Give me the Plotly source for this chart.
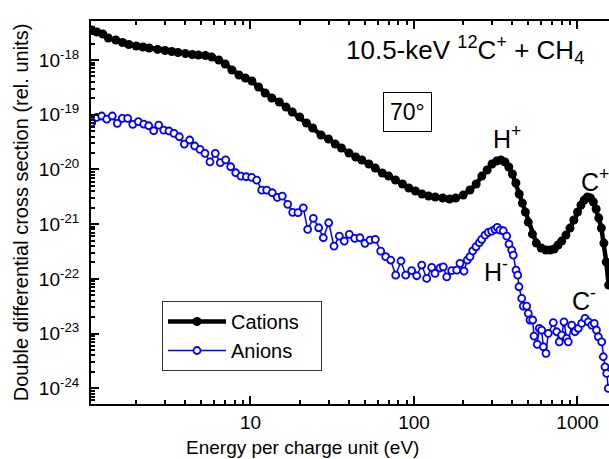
import numpy as np
import plotly.graph_objects as go

# ---- data ----
cation_energy = [1.07, 1.15, 1.25, 1.35, 1.5, 1.65, 1.8, 2.0, 2.2, 2.4, 2.7, 3.0, 3.3, 3.6, 4.0, 4.4,
                 4.8, 5.3, 5.8, 6.4, 7.0, 7.7, 8.5, 9.3, 10.2, 11.2, 12.3, 13.5, 15, 16.5, 18, 20,
                 22, 24, 27, 30, 33, 36, 40, 44, 48, 53, 58, 64, 70, 77, 85, 93, 102, 112, 123,
                 135, 150, 165, 180, 200, 220, 240, 260, 280, 300, 320, 340, 360, 380, 400, 420,
                 440, 460, 480, 500, 530, 560, 600, 640, 680, 720, 760, 800, 850, 900, 950, 1000,
                 1050, 1100, 1150, 1200, 1250, 1300, 1350, 1400, 1450, 1500, 1550]
cation_dcs = [3.54e-18, 3.25e-18, 2.99e-18, 2.52e-18, 2.32e-18, 2.09e-18, 1.92e-18, 1.80e-18,
              1.73e-18, 1.66e-18, 1.56e-18, 1.49e-18, 1.43e-18, 1.37e-18, 1.31e-18, 1.26e-18,
              1.23e-18, 1.21e-18, 1.13e-18, 1.00e-18, 8.45e-19, 6.57e-19, 5.32e-19, 4.69e-19,
              4.13e-19, 3.21e-19, 2.49e-19, 2.02e-19, 1.71e-19, 1.38e-19, 1.12e-19, 9.08e-20,
              7.05e-20, 5.71e-20, 4.26e-20, 3.60e-20, 2.91e-20, 2.46e-20, 2.00e-20, 1.69e-20,
              1.49e-20, 1.26e-20, 1.06e-20, 8.59e-21, 7.57e-21, 6.40e-21, 5.41e-21, 4.57e-21,
              4.03e-21, 3.55e-21, 3.26e-21, 3.13e-21, 3.00e-21, 2.88e-21, 3.00e-21, 3.40e-21,
              4.20e-21, 5.41e-21, 7.57e-21, 9.75e-21, 1.26e-20, 1.42e-20, 1.49e-20, 1.37e-20,
              1.11e-20, 8.24e-21, 5.64e-21, 3.55e-21, 2.43e-21, 1.66e-21, 1.09e-21, 6.59e-22,
              4.51e-22, 3.66e-22, 3.36e-22, 3.36e-22, 3.51e-22, 4.15e-22, 4.91e-22, 6.32e-22,
              8.48e-22, 1.19e-21, 1.66e-21, 2.23e-21, 2.76e-21, 3.13e-21, 3.00e-21, 2.54e-21,
              1.89e-21, 1.29e-21, 8.48e-22, 4.51e-22, 2.03e-22, 7.70e-23]

anion_energy = [1.068, 1.146, 1.230, 1.320, 1.428, 1.532, 1.644, 1.774, 1.904, 2.060, 2.223, 2.385,
                2.559, 2.745, 2.945, 3.173, 3.405, 3.669, 3.936, 4.247, 4.557, 4.911, 5.268, 5.652,
                6.090, 6.537, 7.053, 7.566, 8.121, 8.747, 9.426, 10.17, 10.91, 11.71, 12.57, 13.59,
                14.58, 15.65, 16.89, 18.12, 19.52, 21.03, 22.37, 24.22, 26.13, 27.88, 30.08, 32.42,
                34.93, 37.47, 40.21, 43.39, 46.74, 50.14, 53.81, 57.99, 62.56, 67.13, 72.03, 77.29,
                83.26, 88.96, 96.8, 103.9, 111.5, 119.6, 128.3, 134.4, 144.2, 151.1, 158.5, 170.1,
                182.5, 191.1, 202.2, 211.8, 220.0, 228.6, 239.5, 250.9, 259.5, 271.9, 284.8, 298.7,
                312.9, 323.2, 335.7, 351.7, 369.0, 381.1, 396.0, 405.0, 420.7, 430.9, 438.8, 455.8,
                466.2, 489.1, 500.1, 512.2, 532.1, 541.9, 567.6, 584.0, 603.9, 617.8, 641.7, 662.8,
                711.2, 746.0, 773.8, 800.4, 826.6, 858.6, 878.2, 921.4, 965.4, 1011, 1061, 1112,
                1165, 1222, 1267, 1307, 1341, 1406, 1438, 1473, 1509, 1543]
anion_dcs = [7.14e-20, 8.96e-20, 9.47e-20, 8.34e-20, 9.47e-20, 6.96e-20, 8.59e-20, 8.59e-20,
             6.68e-20, 7.45e-20, 6.76e-20, 6.29e-20, 5.10e-20, 6.48e-20, 5.25e-20, 5.04e-20,
             4.57e-20, 3.96e-20, 2.91e-20, 3.45e-20, 2.68e-20, 2.33e-20, 1.97e-20, 1.38e-20,
             1.97e-20, 1.33e-20, 1.49e-20, 1.12e-20, 8.70e-21, 7.57e-21, 7.35e-21, 7.17e-21,
             6.40e-21, 4.20e-21, 4.20e-21, 3.75e-21, 3.09e-21, 3.26e-21, 2.30e-21, 1.64e-21,
             1.62e-21, 1.99e-21, 8.03e-22, 1.28e-21, 8.59e-22, 5.64e-22, 1.06e-21, 3.98e-22,
             6.06e-22, 4.91e-22, 6.51e-22, 5.50e-22, 5.64e-22, 4.46e-22, 5.12e-22, 5.27e-22,
             3.22e-22, 2.54e-22, 2.21e-22, 1.17e-22, 2.12e-22, 1.17e-22, 1.41e-22, 1.14e-22,
             1.79e-22, 1.02e-22, 1.62e-22, 1.26e-22, 1.58e-22, 1.66e-22, 1.09e-22, 1.41e-22,
             1.45e-22, 1.92e-22, 1.39e-22, 2.21e-22, 2.54e-22, 3.26e-22, 3.86e-22, 4.57e-22,
             5.27e-22, 6.32e-22, 7.08e-22, 7.48e-22, 8.03e-22, 8.74e-22, 7.80e-22, 7.57e-22,
             6.06e-22, 4.33e-22, 3.36e-22, 2.72e-22, 1.45e-22, 1.17e-22, 7.17e-23, 4.40e-23,
             3.18e-23, 3.18e-23, 2.34e-23, 1.77e-23, 1.77e-23, 9.00e-24, 6.35e-24, 1.25e-23,
             1.16e-23, 5.74e-24, 4.35e-24, 1.01e-23, 1.58e-23, 1.08e-23, 7.08e-24, 9.39e-24,
             1.64e-23, 8.17e-24, 7.08e-24, 1.43e-23, 1.08e-23, 1.25e-23, 1.54e-23, 1.90e-23,
             1.64e-23, 1.43e-23, 1.54e-23, 1.16e-23, 8.74e-24, 7.08e-24, 3.77e-24, 2.47e-24,
             1.87e-24, 9.96e-25]

x_tick_vals = [10, 100, 1000]
x_tick_text = ["10", "100", "1000"]
y_tick_exps = [-24, -23, -22, -21, -20, -19, -18]

FONT = "Liberation Sans, Arial, sans-serif"

fig = go.Figure()
fig.add_trace(go.Scatter(
    x=cation_energy, y=cation_dcs, name="Cations\u00a0\u00a0\u00a0", mode="lines+markers",
    line=dict(color="black", width=4.5),
    marker=dict(symbol="circle", size=9, color="black"),
))
fig.add_trace(go.Scatter(
    x=anion_energy, y=anion_dcs, name="Anions", mode="lines+markers",
    line=dict(color="#0000ff", width=1.5),
    marker=dict(symbol="circle", size=7, color="white", line=dict(color="#0000ff", width=1.8)),
))

W, H = 609, 459
L, R, T, B = 91, 0, 21, 55


def px(x):
    return (x - L) / (W - L - R)


def py(y):
    return (H - B - y) / (H - T - B)


axis_common = dict(
    showline=True, linecolor="black", linewidth=2,
    ticks="inside", ticklen=8, tickwidth=2, tickcolor="black",
    showgrid=False, zeroline=False,
)

fig.update_xaxes(
    type="log", range=[0.0245, 3.1927],
    tickvals=x_tick_vals, ticktext=x_tick_text,
    tickfont=dict(size=19, color="black", family=FONT),
    mirror="ticks",
    minor=dict(ticks="inside", ticklen=4, tickwidth=1.5, tickcolor="black", dtick="D1", showgrid=False),
    **axis_common,
)
fig.update_yaxes(
    type="log", range=[-24.287, -17.287],
    tickvals=[10.0 ** e for e in y_tick_exps],
    ticktext=["10<sup>%d</sup>" % e for e in y_tick_exps],
    tickfont=dict(size=19, color="black", family=FONT),
    ticklabelstandoff=6,
    minor=dict(ticks="inside", ticklen=4, tickwidth=1.5, tickcolor="black", dtick="D1", showgrid=False),
    title=dict(text="Double differential cross section (rel. units)", font=dict(size=20, color="black", family=FONT), standoff=5),
    **axis_common,
)

annos = [
    dict(text="10.5-keV <sup>12</sup>C<sup>+</sup> + CH<sub>4</sub>", x=px(344), y=py(50), size=26),
    dict(text="H<sup>+</sup>", x=px(491), y=py(137), size=25),
    dict(text="C<sup>+</sup>", x=px(579), y=py(180), size=25),
    dict(text="H<sup>-</sup>", x=px(482), y=py(270), size=25),
    dict(text="C<sup>-</sup>", x=px(570), y=py(299), size=25),
]
for a in annos:
    fig.add_annotation(xref="paper", yref="paper", x=a["x"], y=a["y"], text=a["text"],
                       xanchor="left", yanchor="middle", showarrow=False,
                       font=dict(size=a["size"], color="black", family=FONT))
fig.add_annotation(xref="paper", yref="paper", x=px(407), y=py(111.5), text="70°",
                   xanchor="center", yanchor="middle",
                   showarrow=False, font=dict(size=23, color="black", family=FONT),
                   bordercolor="black", borderwidth=1, borderpad=6, bgcolor="white")
# x-axis title (centred where the reference places it)
fig.add_annotation(xref="paper", yref="paper", x=px(302), y=py(448), text="Energy per charge unit (eV)",
                   xanchor="center", yanchor="middle", showarrow=False,
                   font=dict(size=19, color="black", family=FONT))

fig.update_layout(
    width=W, height=H,
    margin=dict(l=L, r=R, t=T, b=B),
    paper_bgcolor="white", plot_bgcolor="white",
    font=dict(family=FONT, color="black"),
    legend=dict(x=px(162), y=py(301), xanchor="left", yanchor="top",
                bordercolor="#333333", borderwidth=1, bgcolor="white",
                font=dict(size=20, color="black", family=FONT),
                itemwidth=58, tracegroupgap=0),
    showlegend=True,
)

fig.write_html("out.html", config={"displayModeBar": False},
               post_script="document.body.style.margin='0';document.body.style.overflow='hidden';")
